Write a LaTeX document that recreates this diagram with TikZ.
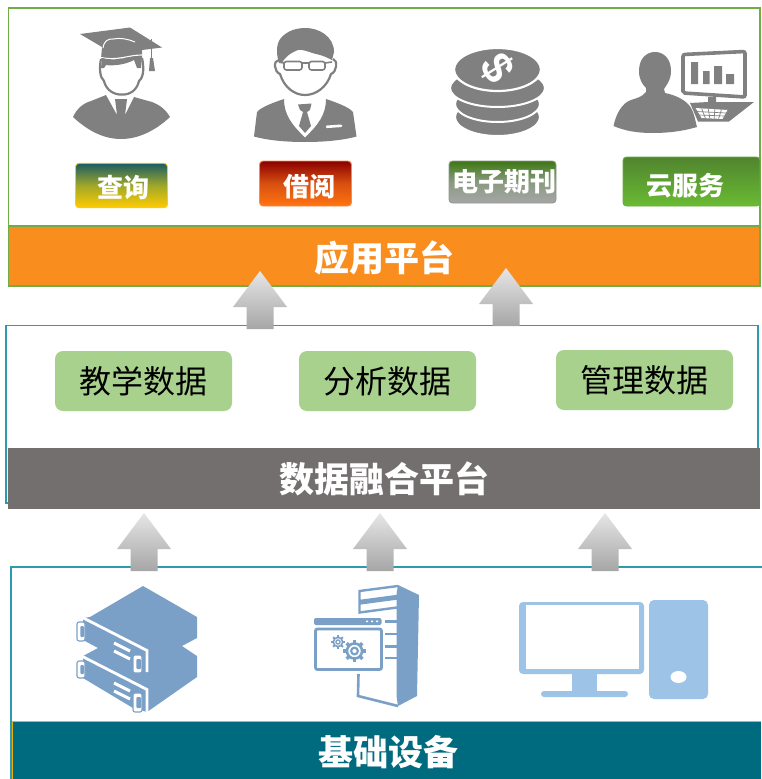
\documentclass[tikz,border=0pt]{standalone}
\usepackage{fontspec}
\setmainfont{Noto Sans CJK SC}
\newfontfamily\latinbold{Liberation Sans}
\definecolor{icongray}{HTML}{808080}
\definecolor{srvblue}{HTML}{7BA0C8}
\definecolor{pcblue}{HTML}{9DC3E6}
\definecolor{frameteal}{HTML}{2E9AAF}
\definecolor{framegreen}{HTML}{70AD47}
\definecolor{barorange}{HTML}{F98E1F}
\definecolor{bargray}{HTML}{746F6F}
\definecolor{barteal}{HTML}{006B7F}
\definecolor{bargold}{HTML}{F0B000}
\definecolor{datagreen}{HTML}{A9D18E}
\definecolor{arrowtop}{HTML}{E6E6E6}
\definecolor{arrowbot}{HTML}{A6A6A6}
\definecolor{qa}{HTML}{1A5C63}\definecolor{qb}{HTML}{FFCC00}\definecolor{qm}{HTML}{A0A828}\definecolor{qd}{HTML}{FFC81E}
\definecolor{ja}{HTML}{8B0000}\definecolor{jb}{HTML}{FF7410}\definecolor{jm}{HTML}{D85010}\definecolor{jd}{HTML}{F58C50}
\definecolor{ea}{HTML}{3C7810}\definecolor{eb}{HTML}{A6A6A6}\definecolor{em}{HTML}{8A9A80}\definecolor{ed}{HTML}{969696}
\definecolor{ya}{HTML}{50842E}\definecolor{yb}{HTML}{6ABB34}\definecolor{yd}{HTML}{6AAF3C}
\tikzset{
  barbox/.style={inner sep=0pt,text=white,font=\fontsize{35}{35}\selectfont\bfseries},
  databox/.style={fill=datagreen,rounded corners=8pt,inner sep=0pt,minimum width=177pt,minimum height=60pt,text=black,font=\fontsize{32}{32}\selectfont},
  btnbox/.style={rounded corners=3.5pt,inner sep=0pt,line width=0.9pt},
  btntext/.style={inner sep=0pt,text=white,font=\fontsize{26}{26}\selectfont\bfseries},
  icon/.style={fill=icongray,draw=none},
  srv/.style={fill=srvblue,draw=none},
  wl/.style={draw=white,line width=2.8pt,line cap=butt},
}
\newcommand{\upArrow}[2]{% x, top y
  \shade[top color=arrowtop,bottom color=arrowbot] (#1,#2)--(#1+27,#2+36)--(#1+13.5,#2+36)--(#1+13.5,#2+58)--(#1-13.5,#2+58)--(#1-13.5,#2+36)--(#1-27,#2+36)--cycle;}
\newcommand{\gearIcon}[3]{% x,y,r
  \foreach \a in {0,45,...,315}{\draw[draw=srvblue,line width=#3*0.32pt] (#1,#2)++(\a:#3*0.72)--++(\a:#3*0.34);}
  \draw[draw=srvblue,line width=#3*0.24pt] (#1,#2) circle[radius=#3*0.72];
  \draw[draw=srvblue,line width=#3*0.2pt] (#1,#2) circle[radius=#3*0.32];}
\newcommand{\bracketIcon}[4]{%
  \draw[srvblue,fill=white,line width=1.1pt,rounded corners=2pt] (#1,#2) rectangle (#3,#4);
  \fill[srvblue,rounded corners=1pt] (#1+3.4,#2+4) rectangle (#3-1,#4-4);}
\begin{document}
\begin{tikzpicture}[x=1pt,y=-1pt]
\useasboundingbox (0,0) rectangle (761,779);
\fill[white] (0,0) rectangle (761,779);
% frames
\draw[framegreen,line width=1.3pt] (8.5,8) rectangle (760,286);
\draw[frameteal,line width=1.1pt] (6,325.5) rectangle (758,503);
\draw[frameteal,line width=1.1pt] (11,567) rectangle (770,790);
% bars
\node[barbox,fill=barorange,draw=framegreen,line width=1.3pt,minimum width=751.5pt,minimum height=60pt,text depth=0pt] (app) at (384.25,256) {\raisebox{-1pt}{应用平台}};
\node[barbox,fill=bargray,minimum width=752pt,minimum height=61pt] (fusion) at (384,478.5) {\raisebox{-2pt}{数据融合平台}};
\fill[barteal] (13,721) rectangle (761,779);
\draw[bargold,line width=1pt] (12.7,779) -- (12.7,721) -- (761,721);
\node[barbox] (base) at (388.5,752) {基础设备};
% data boxes
\node[databox] (d1) at (143.5,381) {教学数据};
\node[databox] (d2) at (387.5,381) {分析数据};
\node[databox] (d3) at (644.5,380) {管理数据};
% arrows
\upArrow{260}{271}
\upArrow{506}{268}
\upArrow{144}{513}
\upArrow{380}{513}
\upArrow{605}{513}
% buttons
\node[btnbox,top color=qa,bottom color=qb,middle color=qm,draw=qd,minimum width=92pt,minimum height=44.5pt] (b1) at (121.5,185.5) {};
\node[btntext] (t1) at (123.5,188) {查询};
\node[btnbox,top color=ja,bottom color=jb,middle color=jm,draw=jd,minimum width=92pt,minimum height=45pt] (b2) at (305.5,183.5) {};
\node[btntext] (t2) at (309.5,187) {借阅};
\node[btnbox,top color=ea,bottom color=eb,middle color=em,draw=ed,minimum width=107pt,minimum height=42pt] (b3) at (502.5,182) {};
\node[btntext] (t3) at (504,181.5) {电子期刊};
\node[btnbox,top color=ya,bottom color=yb,draw=yd,minimum width=137pt,minimum height=49pt] (b4) at (691.5,181.5) {};
\node[btntext] (t4) at (685,186) {云服务};
% graduate
\fill[icon] (80,34)--(130,27.5)--(162,47.5)--(142,50)--(142,59)..controls(128,57)and(118,64)..(101,59)--(102,47)--cycle;
\draw[white,line width=1pt] (103,48) ..controls (104,41) and (108,38.5) .. (113,39) ..controls (120,37.5) and (128,39) .. (135,42);
\draw[white,line width=1.1pt] (101,57.5) ..controls (118,61) and (128,55) .. (142,55);
\draw[icongray,line width=1.1pt] (151.5,39)--(151.5,60);
\fill[icon] (150,58)--(153,58)--(155,71)--(149,71)--cycle;
\draw[icongray,line width=2.2pt,fill=white] (101,59) ..controls (99,68) and (100,78) .. (104,81) ..controls (106,90) and (114,95) .. (122,94.5) ..controls (130,95) and (137,90) .. (139,81) ..controls (144,77) and (144,67) .. (142,58);
\fill[icon] (102,58)..controls (118,62) and (128,56) .. (142,56)--(141,68)--(137,68)--(134,60)..controls (125,65) and (112,66) .. (106,65)--(104,68)--(101,68)--cycle;
\fill[icon] (73,117)..controls(77,108)and(84,103)..(91,101)--(106,95)--(117,115)--(115,99)--(127,99)--(125,115)--(134,97)--(152,102)..controls(160,105)and(166,110)..(170,117)..controls(155,131)and(138,139)..(121,139)..controls(104,139)and(88,131)..(73,117)--cycle;
% borrow person
\draw[icongray,line width=2.2pt,fill=white] (279,60) ..controls (273,60) and (274,72) .. (280,74) ..controls (284,87) and (294,95) .. (305,95) ..controls (316,95) and (327,87) .. (331,74) ..controls (337,72) and (338,60) .. (333,59);
\fill[icon] (279,63)..controls(275,50)and(277,40)..(284,35)..controls(291,29)and(300,28)..(306,28)..controls(318,28)and(334,36)..(334,52)--(332,60)..controls(328,58)and(322,55)..(316,54)..controls(308,52)and(303,49)..(298,50)..controls(290,53)and(284,58)..(282,63)--cycle;
\draw[icongray,line width=1.6pt,rounded corners=2.5pt,fill=white] (284,61.5) rectangle (302,70);
\draw[icongray,line width=1.6pt,rounded corners=2.5pt,fill=white] (309,61.5) rectangle (325,70);
\draw[icongray,line width=1.6pt] (302,63)--(309,63) (279,62)--(284,63) (325,63)--(332,62);
\fill[icon] (254,136.5)--(257,112)..controls(261,107)and(275,102)..(284,99)..controls(284,115)and(292,125)..(305,137.5)..controls(318,125)and(326,115)..(326,99)..controls(335,102)and(349,107)..(353,112)--(356.5,136.5)..controls(340,141)and(320,142)..(305,142)..controls(290,142)and(270,141)..(254,136.5)--cycle;
\fill[icon] (298,104.5)--(311.5,103.5)--(310,110)--(307,112)--(311,126)--(305,133)--(299,126)--(303,112)--(300,110)--cycle;
\draw[white,line width=2.6pt,line cap=round] (327,126.8)--(341,125.8);
% coins
\foreach \cy/\rx/\ry in {117/42.5/19,104/42.5/18,88/47.5/19}{
  \draw[white,line width=2pt,fill=icongray] (497.5,\cy) ellipse[x radius=\rx,y radius=\ry];}
\draw[white,line width=2.2pt,fill=icongray] (497.5,69.5) ellipse[x radius=43.5,y radius=21.5];
\node[text=white,inner sep=0pt,rotate=-58,font=\fontsize{44}{44}\selectfont\latinbold\bfseries] (dollar) at (497,68) {\$};
% cloud user
\draw[icongray,line width=3.6pt,rounded corners=2pt,fill=white] (683,54.5)--(745,51.5)--(745,97)--(683,93)--cycle;
\fill[icon] (691,62)rectangle(698,84) (703,71)rectangle(709.5,84) (714,66)rectangle(722,84) (726,74)rectangle(734,84);
\fill[icon] (708,97)--(716,97)--(716,102)--(754,102)--(729,121.5)--(698,121.5)--(690,103)--(708,102)--cycle;
\fill[white] (695,108)--(728,110)--(723,119)--(701,118)--cycle;
\foreach \t in {0,0.2,0.4,0.6,0.8,1}{\draw[icongray,line width=0.7pt] (695+33*\t,108+2*\t)--(701+22*\t,118+1*\t);}
\draw[icongray,line width=0.7pt] (696.5,111.5)--(726,113) (698.5,115)--(724.5,116);
\fill[icon] (655,52)..controls(664,52)and(671,59)..(671,71)..controls(671,80)and(666,86)..(664,89)--(665,93)..controls(675,95)and(683,99)..(688,104)..controls(694,110)and(695,120)..(697,127)..controls(680,132)and(665,133)..(652,133)..controls(638,133)and(625,131)..(613.5,126)..controls(616,114)and(622,103)..(631,100)..controls(637,98)and(642,97)..(646,92)--(646,88)..controls(642,84)and(639,79)..(639,71)..controls(639,59)and(646,52)..(655,52)--cycle;
% server
\fill[srv] (90,617)--(143,586)--(197,617)--(197,638)--(182,646)--(197,656)--(197,677)--(147,712)--(133,708)--(83,678)--(83,656)--(98,648)--(83,640)--(83,618)--cycle;
\draw[wl] (80.5,616.5)--(147,650.5)--(147,672);
\draw[wl] (80.5,655.5)--(147,689.5)--(147,712);
\draw[wl,line width=3pt] (114,643)--(130,651) (114,651)--(130,659) (114,683)--(130,691) (114,691)--(130,699);
\bracketIcon{77}{622}{85}{641}
\bracketIcon{77}{661}{85}{678}
\bracketIcon{133}{655}{142}{673}
\bracketIcon{133}{693}{142}{712}
% tower
\fill[srv] (398,585)--(419,595)--(417,696)--(398,706)--(396.5,696)--(396.5,594)--cycle;
\draw[srvblue,line width=2.4pt] (398,586)--(359.5,591)--(359.5,601)--(397,596) (397,598.5)--(359.5,603.5)--(359.5,612.5)--(397,607.5);
\draw[srvblue,line width=2.4pt] (385,621.5)--(397,621.5) (385,634)--(397,634) (385,646.5)--(397,646.5) (385,658)--(397,658);
\draw[srvblue,line width=2.6pt] (358.5,674)--(358,696)--(398,706);
\fill[srv,rounded corners=2pt] (314,618)rectangle(381.5,625);
\fill[white] (366,620.5)rectangle(368,622) (371,620.5)rectangle(373,622) (376,620.5)rectangle(378,622);
\draw[srvblue,line width=2.8pt,rounded corners=2pt] (315.5,629)rectangle(381.5,669.5);
\gearIcon{338}{642}{6.5}
\gearIcon{354.5}{651}{10.5}
% computer
\fill[pcblue,rounded corners=4pt] (519,602)rectangle(644,674);
\fill[white] (526,605)rectangle(639,669);
\fill[pcblue] (572,673)rectangle(597,692);
\fill[pcblue,rounded corners=3pt] (541,691)rectangle(628,697);
\fill[pcblue,rounded corners=5pt] (649,600)rectangle(708,699);
\fill[white] (678.5,677) ellipse[x radius=8,y radius=6];
\end{tikzpicture}
\end{document}
